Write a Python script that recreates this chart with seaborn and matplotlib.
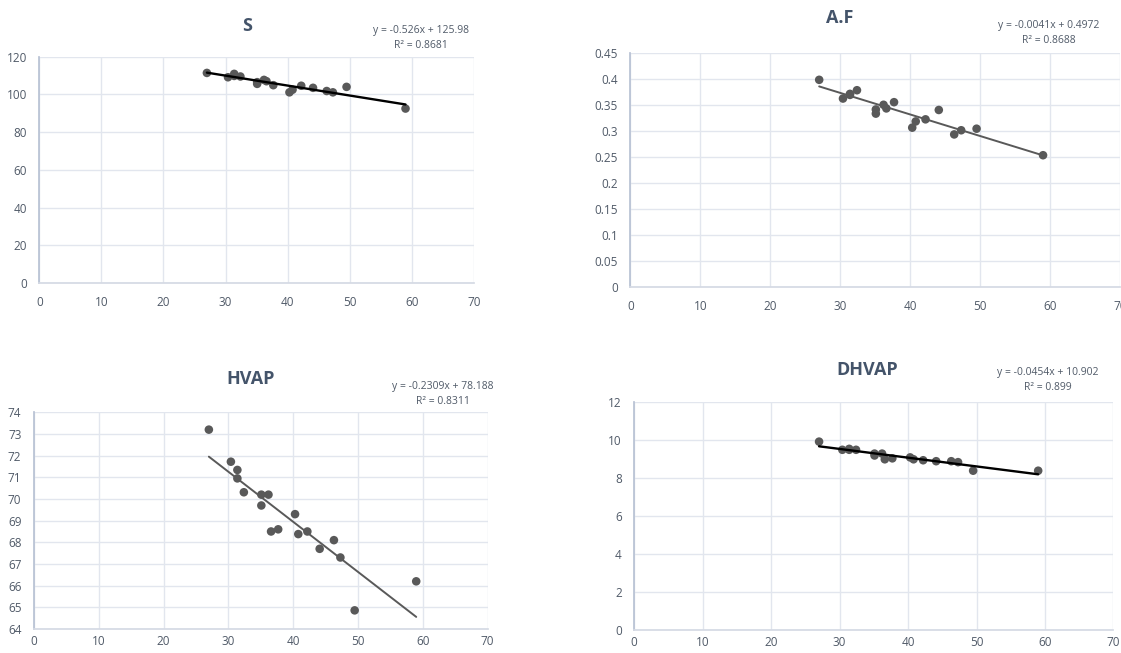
import numpy as np
import pandas as pd
import seaborn as sns
import matplotlib.pyplot as plt
import matplotlib.ticker as ticker

# shared x values
x_vals = [27.0, 30.4, 31.4, 31.4, 32.4, 35.1, 35.1, 36.2, 36.6, 37.7,
          40.3, 40.8, 42.2, 44.1, 46.3, 47.3, 49.5, 59.0]

s_vals = [111.4, 109.1, 110.9, 109.8, 109.5, 105.6, 106.5, 107.7, 107.0, 104.9,
          101.1, 102.5, 104.6, 103.5, 101.8, 101.1, 104.0, 92.5]
af_vals = [0.399, 0.363, 0.372, 0.370, 0.379, 0.334, 0.342, 0.351, 0.344, 0.356,
           0.307, 0.319, 0.323, 0.341, 0.294, 0.302, 0.305, 0.254]
hvap_vals = [73.2, 71.72, 71.34, 70.95, 70.31, 70.2, 69.7, 70.2, 68.5, 68.6,
             69.3, 68.38, 68.5, 67.7, 68.1, 67.3, 64.86, 66.2]
dhvap_vals = [9.93, 9.5, 9.55, 9.5, 9.5, 9.3, 9.2, 9.3, 9.0, 9.05,
              9.1, 9.0, 8.95, 8.9, 8.9, 8.85, 8.4, 8.4]

titles = ["S", "A.F", "HVAP", "DHVAP"]
equations = ["y = -0.526x + 125.98\nR² = 0.8681",
             "y = -0.0041x + 0.4972\nR² = 0.8688",
             "y = -0.2309x + 78.188\nR² = 0.8311",
             "y = -0.0454x + 10.902\nR² = 0.899"]
y_ticks = [[0, 20, 40, 60, 80, 100, 120],
           [0, 0.05, 0.1, 0.15, 0.2, 0.25, 0.3, 0.35, 0.4, 0.45],
           list(range(64, 75)),
           [0, 2, 4, 6, 8, 10, 12]]
x_ticks = [0, 10, 20, 30, 40, 50, 60, 70]

df = pd.DataFrame({"x": x_vals, "S": s_vals, "A.F": af_vals,
                   "HVAP": hvap_vals, "DHVAP": dhvap_vals})

sns.set_theme(style="white")
plt.rcParams['font.family'] = ['Open Sans', 'DejaVu Sans']

W, H = 1121, 653
fig = plt.figure(figsize=(W / 100, H / 100), dpi=100)

# axes boxes in pixels: left, top, right, bottom
boxes = [(39.3, 56.7, 473.8, 283.0),
         (630.3, 53.3, 1120.0, 287.3),
         (33.9, 412.3, 487.5, 629.0),
         (634.2, 402.3, 1113.5, 630.3)]
title_pos = [(246.7, 25.7), (840, 18), (251, 379), (867, 370)]
eq_pos = [(421, 38), (1049, 33), (443, 394), (1048, 380)]
line_colors = ["black", "#595959", "#595959", "black"]
line_widths = [1.7, 1.4, 1.4, 1.7]
x_pads = [9, 9, 4, 4]

text_col = "#505a68"
grid_col = "#e2e6ee"

for i, name in enumerate(titles):
    l, t, r, b = boxes[i]
    ax = fig.add_axes([l / W, 1 - b / H, (r - l) / W, (b - t) / H])
    sns.scatterplot(data=df, x="x", y=name, ax=ax, color="#595959",
                    s=38, edgecolor="none", zorder=3)
    sns.regplot(data=df, x="x", y=name, ax=ax, scatter=False, ci=None,
                line_kws={"color": line_colors[i], "lw": line_widths[i], "zorder": 4})
    ax.set_xlim(0, 70)
    ax.set_ylim(y_ticks[i][0], y_ticks[i][-1])
    ax.set_xticks(x_ticks)
    ax.set_yticks(y_ticks[i])
    if name == "A.F":
        ax.yaxis.set_major_formatter(ticker.FuncFormatter(lambda v, p: f"{v:g}"))
    ax.set_xlabel("")
    ax.set_ylabel("")
    ax.grid(True, color=grid_col, lw=1)
    ax.set_axisbelow(True)
    for side in ["top", "right"]:
        ax.spines[side].set_visible(False)
    ax.spines["left"].set_color("#b8c2d4")
    ax.spines["bottom"].set_color("#d5dae4")
    ax.tick_params(length=0, labelsize=8.5, labelcolor=text_col)
    ax.tick_params(axis="y", pad=9)
    ax.tick_params(axis="x", pad=x_pads[i])

    tx, ty = title_pos[i]
    fig.text(tx / W, 1 - ty / H, name, ha="center", va="center",
             fontsize=13, fontweight="bold", color="#44546a")
    ex, ey = eq_pos[i]
    fig.text(ex / W, 1 - ey / H, equations[i], ha="center", va="center",
             fontsize=7.5, color=text_col, linespacing=1.5)

fig.savefig("out.png", dpi=100)
